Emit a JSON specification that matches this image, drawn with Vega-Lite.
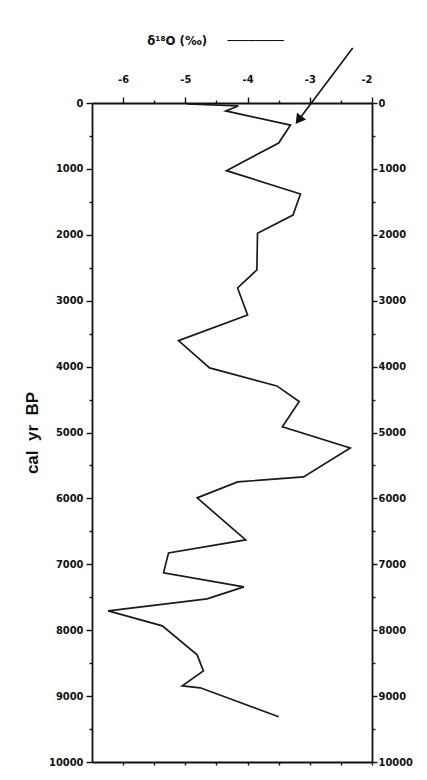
{
  "$schema": "https://vega.github.io/schema/vega-lite/v6.json",
  "width": 280,
  "height": 659,
  "autosize": {"type": "none"},
  "padding": {"left": 92, "top": 103, "right": 55, "bottom": 18},
  "background": "white",
  "config": {
    "view": {"stroke": null},
    "font": "DejaVu Sans Condensed, Liberation Sans, sans-serif",
    "axis": {
      "domainColor": "#111",
      "domainWidth": 1.8,
      "tickColor": "#111",
      "tickWidth": 1.4,
      "labelColor": "#111",
      "labelFont": "DejaVu Sans Condensed, Liberation Sans, sans-serif",
      "labelFontSize": 11,
      "labelFontWeight": "bold",
      "grid": false
    }
  },
  "datasets": {
    "iso": [
      {"d18O": -4.97, "age": 15},
      {"d18O": -4.15, "age": 45},
      {"d18O": -4.35, "age": 120},
      {"d18O": -3.31, "age": 335},
      {"d18O": -3.5, "age": 607},
      {"d18O": -4.34, "age": 1027},
      {"d18O": -3.15, "age": 1380},
      {"d18O": -3.27, "age": 1700},
      {"d18O": -3.84, "age": 1975},
      {"d18O": -3.85, "age": 2533},
      {"d18O": -4.16, "age": 2807},
      {"d18O": -4.0, "age": 3216},
      {"d18O": -5.11, "age": 3606},
      {"d18O": -4.61, "age": 4020},
      {"d18O": -3.53, "age": 4293},
      {"d18O": -3.17, "age": 4531},
      {"d18O": -3.44, "age": 4915},
      {"d18O": -2.35, "age": 5234},
      {"d18O": -3.1, "age": 5673},
      {"d18O": -4.16, "age": 5750},
      {"d18O": -4.81, "age": 5992},
      {"d18O": -4.03, "age": 6630},
      {"d18O": -5.27, "age": 6827},
      {"d18O": -5.35, "age": 7130},
      {"d18O": -4.06, "age": 7342},
      {"d18O": -4.65, "age": 7524},
      {"d18O": -6.24, "age": 7706},
      {"d18O": -5.37, "age": 7934},
      {"d18O": -4.81, "age": 8374},
      {"d18O": -4.71, "age": 8617},
      {"d18O": -5.05, "age": 8844},
      {"d18O": -4.76, "age": 8874},
      {"d18O": -3.5, "age": 9314}
    ],
    "arrow": [
      {"xs": -2.31, "ys": -835, "xe": -3.18, "ye": 258}
    ]
  },
  "layer": [
    {
      "data": {"name": "iso"},
      "mark": {"type": "line", "stroke": "#1a1a1a", "strokeWidth": 1.7, "interpolate": "linear"},
      "encoding": {
        "x": {
          "field": "d18O",
          "type": "quantitative",
          "scale": {"domain": [-6.5, -2], "nice": false, "zero": false},
          "axis": {
            "orient": "top",
            "values": [-6, -5.5, -5, -4.5, -4, -3.5, -3, -2.5, -2],
            "labelExpr": "datum.value % 1 === 0 ? '' + datum.value : ''",
            "tickSize": {"condition": {"test": "datum.value % 1 === 0", "value": 6}, "value": 3},
            "labelPadding": 13,
            "title": "δ¹⁸O (‰)\u00a0\u00a0\u00a0\u00a0\u00a0────────",
            "titleFont": "DejaVu Sans Condensed, Liberation Sans, sans-serif",
            "titleFontSize": 13,
            "titleFontWeight": "bold",
            "titleColor": "#111",
            "titleAlign": "center",
            "titleBaseline": "middle",
            "titleX": 123,
            "titleY": -63
          }
        },
        "y": {
          "field": "age",
          "type": "quantitative",
          "scale": {"domain": [0, 10000], "nice": false, "reverse": true},
          "axis": {
            "orient": "left",
            "values": [0, 500, 1000, 1500, 2000, 2500, 3000, 3500, 4000, 4500, 5000, 5500, 6000, 6500, 7000, 7500, 8000, 8500, 9000, 9500, 10000],
            "labelExpr": "datum.value % 1000 === 0 ? '' + datum.value : ''",
            "tickSize": {"condition": {"test": "datum.value % 1000 === 0", "value": 6}, "value": 3},
            "labelPadding": 3,
            "title": "cal\u00a0\u00a0yr\u00a0\u00a0BP",
            "titleFont": "Liberation Sans, sans-serif",
            "titleFontSize": 17,
            "titleFontWeight": "bold",
            "titleColor": "#111",
            "titlePadding": 7
          }
        },
        "order": {"field": "age", "type": "quantitative"}
      }
    },
    {
      "data": {"name": "arrow"},
      "mark": {"type": "rule", "stroke": "#111", "strokeWidth": 1.6},
      "encoding": {
        "x": {
          "field": "xs",
          "type": "quantitative",
          "scale": {"domain": [-6.5, -2], "nice": false, "zero": false},
          "axis": {
            "orient": "bottom",
            "values": [-6, -5.5, -5, -4.5, -4, -3.5, -3, -2.5, -2],
            "labels": false,
            "tickSize": 3,
            "title": null
          }
        },
        "x2": {"field": "xe"},
        "y": {
          "field": "ys",
          "type": "quantitative",
          "scale": {"domain": [0, 10000], "nice": false, "reverse": true},
          "axis": {
            "orient": "right",
            "values": [0, 500, 1000, 1500, 2000, 2500, 3000, 3500, 4000, 4500, 5000, 5500, 6000, 6500, 7000, 7500, 8000, 8500, 9000, 9500, 10000],
            "labelExpr": "datum.value % 1000 === 0 ? '' + datum.value : ''",
            "tickSize": {"condition": {"test": "datum.value % 1000 === 0", "value": 5}, "value": 3},
            "labelPadding": 1,
            "title": null
          }
        },
        "y2": {"field": "ye"}
      }
    },
    {
      "data": {"name": "arrow"},
      "mark": {"type": "point", "shape": "triangle-up", "angle": 217, "filled": true, "fill": "#111", "size": 130, "opacity": 1},
      "encoding": {
        "x": {"field": "xe", "type": "quantitative", "scale": {"domain": [-6.5, -2], "nice": false, "zero": false}, "axis": null},
        "y": {"field": "ye", "type": "quantitative", "scale": {"domain": [0, 10000], "nice": false, "reverse": true}, "axis": null}
      }
    }
  ],
  "resolve": {"axis": {"x": "independent", "y": "independent"}}
}
